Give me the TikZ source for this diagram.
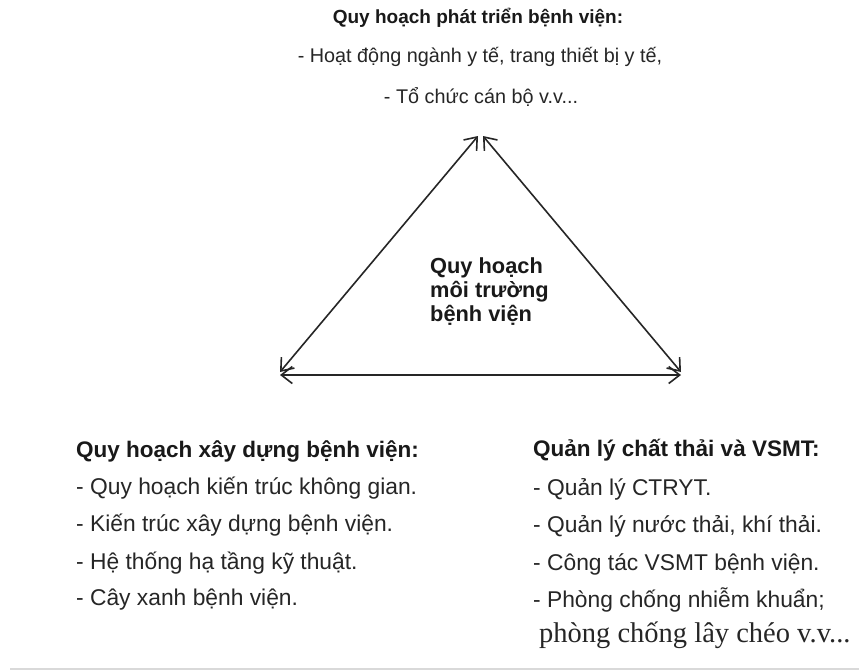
\documentclass[tikz,border=0pt]{standalone}
\usepackage{fontspec}
\setmainfont{Liberation Sans}
\newfontfamily\seriffont{Liberation Serif}
\usetikzlibrary{arrows.meta}
\tikzset{
  conn/.style={line width=1.6pt, draw=black!85, {Straight Barb[length=11pt,width=17pt,line width=1.6pt]}-{Straight Barb[length=11pt,width=17pt,line width=1.6pt]}},
  toptxt/.style={inner sep=0pt, font=\fontsize{19.8}{22}\selectfont, text=black!85},
  topttl/.style={inner sep=0pt, font=\fontsize{19}{22}\selectfont\bfseries, text=black!90},
  item/.style={inner sep=0pt, anchor=west, font=\fontsize{22.8}{26}\selectfont, text=black!85},
  head/.style={inner sep=0pt, anchor=west, font=\fontsize{22.5}{26}\selectfont\bfseries, text=black!90}
}
\begin{document}
\begin{tikzpicture}[x=1pt,y=-1pt]
\useasboundingbox (0,0) rectangle (859,670);
\fill[white] (0,0) rectangle (859,670);
% top block
\node[topttl] (t0) at (478,18) {Quy hoạch phát triển bệnh viện:};
\node[toptxt] (t1) at (480,57) {- Hoạt động ngành y tế, trang thiết bị y tế,};
\node[toptxt] (t2) at (481,97) {- Tổ chức cán bộ v.v...};
% triangle
\coordinate (apexL) at (478,136);
\coordinate (apexR) at (483,136);
\coordinate (bl) at (280,372);
\coordinate (br) at (681,372);
\coordinate (blb) at (280,375);
\coordinate (brb) at (681,375);
\draw[conn] (bl) -- (apexL);
\draw[conn] (br) -- (apexR);
\draw[conn] (blb) -- (brb);
% center
\node[inner sep=0pt, align=left, anchor=west, text=black!90, font=\fontsize{21.8}{24}\selectfont\bfseries] (center) at (430,292) {Quy hoạch\\môi trường\\bệnh viện};
% bottom left
\node[head] (l0) at (76,451) {Quy hoạch xây dựng bệnh viện:};
\node[item] (l1) at (76,488) {- Quy hoạch kiến trúc không gian.};
\node[item] (l2) at (76,525) {- Kiến trúc xây dựng bệnh viện.};
\node[item] (l3) at (76,563) {- Hệ thống hạ tầng kỹ thuật.};
\node[item] (l4) at (76,600) {- Cây xanh bệnh viện.};
% bottom right
\node[head] (r0) at (533,450) {Quản lý chất thải và VSMT:};
\node[item] (r1) at (533,489) {- Quản lý CTRYT.};
\node[item] (r2) at (533,526) {- Quản lý nước thải, khí thải.};
\node[item] (r3) at (533,564) {- Công tác VSMT bệnh viện.};
\node[item] (r4) at (533,600) {- Phòng chống nhiễm khuẩn;};
\node[item, font=\seriffont\fontsize{28.5}{30}\selectfont] (r5) at (539,635) {phòng chống lây chéo v.v...};
% bottom rule
\coordinate (ruleL) at (10,669);
\coordinate (ruleR) at (859,669);
\draw[black!15, line width=1.2pt] (ruleL) -- (ruleR);
\end{tikzpicture}
\end{document}
